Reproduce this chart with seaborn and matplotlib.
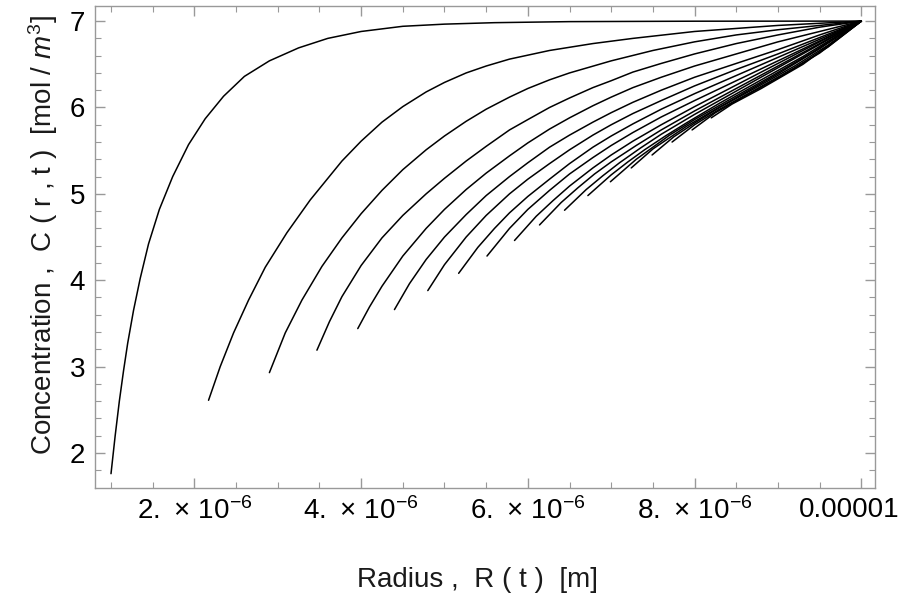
import numpy as np
import pandas as pd
import seaborn as sns
import matplotlib
matplotlib.use("Agg")
import matplotlib.pyplot as plt
from matplotlib.transforms import ScaledTranslation

# Concentration profiles C(r, t) around the shrinking radius R(t).
# Each profile: (radius in micrometres, concentration in mol/m^3)
profile_01 = [(1.00, 1.76), (1.05, 2.20), (1.10, 2.60), (1.15, 2.95), (1.20, 3.27),
              (1.27, 3.65), (1.35, 4.02), (1.45, 4.42), (1.58, 4.82), (1.74, 5.20),
              (1.93, 5.57), (2.13, 5.87), (2.35, 6.13), (2.60, 6.36), (2.90, 6.54),
              (3.25, 6.69), (3.60, 6.80), (4.00, 6.88), (4.50, 6.94), (5.00, 6.965),
              (5.60, 6.982), (6.50, 6.994), (8.00, 6.999), (10.00, 7.00)]
profile_02 = [(2.17, 2.61), (2.31, 3.00), (2.47, 3.39), (2.65, 3.77), (2.85, 4.15),
              (3.11, 4.55), (3.39, 4.93), (3.77, 5.38), (4.00, 5.61), (4.25, 5.83),
              (4.50, 6.01), (4.78, 6.18), (5.00, 6.29), (5.26, 6.40), (5.50, 6.48),
              (5.78, 6.56), (6.26, 6.66), (6.78, 6.74), (7.26, 6.80), (8.00, 6.88),
              (9.00, 6.95), (10.00, 7.00)]
profile_03 = [(2.90, 2.93), (3.09, 3.39), (3.29, 3.77), (3.53, 4.16), (3.77, 4.49),
              (4.00, 4.77), (4.25, 5.04), (4.50, 5.28), (4.78, 5.51), (5.00, 5.67),
              (5.26, 5.84), (5.50, 5.98), (5.78, 6.12), (6.00, 6.22), (6.26, 6.32),
              (6.50, 6.40), (7.00, 6.54), (7.50, 6.66), (8.00, 6.76), (8.50, 6.84),
              (9.00, 6.90), (9.50, 6.95), (10.00, 7.00)]
profile_04 = [(3.47, 3.19), (3.62, 3.52), (3.77, 3.81), (4.00, 4.17), (4.25, 4.49),
              (4.50, 4.75), (4.78, 5.00), (5.00, 5.18), (5.26, 5.38), (5.50, 5.55),
              (5.78, 5.74), (6.00, 5.86), (6.26, 6.00), (6.50, 6.11), (6.78, 6.23),
              (7.00, 6.31), (7.26, 6.41), (7.60, 6.51), (8.00, 6.62), (8.50, 6.74),
              (9.00, 6.84), (9.50, 6.93), (10.00, 7.00)]
profile_05 = [(3.96, 3.44), (4.10, 3.69), (4.25, 3.93), (4.50, 4.28), (4.78, 4.60),
              (5.00, 4.82), (5.26, 5.05), (5.50, 5.24), (5.78, 5.44), (6.00, 5.59),
              (6.26, 5.75), (6.50, 5.88), (6.78, 6.02), (7.00, 6.12), (7.26, 6.23),
              (7.60, 6.35), (8.00, 6.48), (8.50, 6.62), (9.00, 6.76), (9.50, 6.88),
              (10.00, 7.00)]
profile_06 = [(4.40, 3.66), (4.58, 3.96), (4.78, 4.24), (5.00, 4.50), (5.26, 4.76),
              (5.50, 4.98), (5.78, 5.20), (6.00, 5.36), (6.26, 5.54), (6.50, 5.68),
              (6.78, 5.83), (7.00, 5.94), (7.26, 6.06), (7.60, 6.20), (8.00, 6.35),
              (8.50, 6.51), (9.00, 6.67), (9.50, 6.84), (10.00, 7.00)]
profile_07 = [(4.80, 3.88), (5.00, 4.18), (5.26, 4.50), (5.50, 4.75), (5.78, 5.00),
              (6.00, 5.17), (6.26, 5.35), (6.50, 5.51), (6.78, 5.68), (7.00, 5.80),
              (7.26, 5.93), (7.60, 6.08), (8.00, 6.25), (8.50, 6.44), (9.00, 6.62),
              (9.50, 6.81), (10.00, 7.00)]
profile_08 = [(5.17, 4.08), (5.40, 4.38), (5.60, 4.60), (5.78, 4.78), (6.00, 4.97),
              (6.26, 5.17), (6.50, 5.35), (6.78, 5.54), (7.00, 5.67), (7.26, 5.81),
              (7.60, 5.98), (8.00, 6.16), (8.50, 6.37), (9.00, 6.58), (9.50, 6.79),
              (10.00, 7.00)]
profile_09 = [(5.51, 4.28), (5.78, 4.60), (6.00, 4.82), (6.26, 5.04), (6.50, 5.23),
              (6.78, 5.42), (7.00, 5.56), (7.26, 5.71), (7.60, 5.89), (8.00, 6.08),
              (8.50, 6.31), (9.00, 6.54), (9.50, 6.77), (10.00, 7.00)]
profile_10 = [(5.84, 4.46), (6.10, 4.74), (6.30, 4.92), (6.50, 5.09), (6.78, 5.30),
              (7.00, 5.45), (7.26, 5.61), (7.60, 5.80), (8.00, 6.01), (8.50, 6.26),
              (9.00, 6.51), (9.50, 6.76), (10.00, 7.00)]
profile_11 = [(6.14, 4.64), (6.40, 4.90), (6.60, 5.07), (6.80, 5.23), (7.00, 5.37),
              (7.30, 5.56), (7.60, 5.74), (8.00, 5.96), (8.50, 6.22), (9.00, 6.48),
              (9.50, 6.74), (10.00, 7.00)]
profile_12 = [(6.44, 4.81), (6.70, 5.05), (6.90, 5.21), (7.10, 5.36), (7.35, 5.53),
              (7.60, 5.69), (8.00, 5.92), (8.50, 6.19), (9.00, 6.46), (9.50, 6.73),
              (10.00, 7.00)]
profile_13 = [(6.72, 4.98), (7.00, 5.22), (7.20, 5.37), (7.40, 5.51), (7.65, 5.67),
              (7.90, 5.82), (8.30, 6.05), (8.80, 6.32), (9.30, 6.59), (10.00, 7.00)]
profile_14 = [(6.99, 5.14), (7.30, 5.40), (7.50, 5.54), (7.70, 5.68), (8.00, 5.86),
              (8.40, 6.08), (8.90, 6.35), (9.40, 6.63), (10.00, 7.00)]
profile_15 = [(7.24, 5.30), (7.50, 5.52), (7.70, 5.65), (7.90, 5.78), (8.20, 5.95),
              (8.60, 6.17), (9.00, 6.39), (9.50, 6.68), (10.00, 7.00)]
profile_16 = [(7.49, 5.45), (7.75, 5.66), (8.00, 5.82), (8.30, 6.00), (8.70, 6.21),
              (9.20, 6.48), (9.60, 6.72), (10.00, 7.00)]
profile_17 = [(7.73, 5.60), (8.00, 5.80), (8.30, 5.98), (8.70, 6.19), (9.20, 6.46),
              (9.60, 6.70), (10.00, 7.00)]
profile_18 = [(7.97, 5.74), (8.25, 5.94), (8.60, 6.13), (9.00, 6.34), (9.50, 6.63),
              (10.00, 7.00)]
profile_19 = [(8.20, 5.88), (8.45, 6.04), (8.80, 6.22), (9.30, 6.50), (10.00, 7.00)]

profiles = [profile_01, profile_02, profile_03, profile_04, profile_05, profile_06,
            profile_07, profile_08, profile_09, profile_10, profile_11, profile_12,
            profile_13, profile_14, profile_15, profile_16, profile_17, profile_18,
            profile_19]

x_tick_values = [2e-6, 4e-6, 6e-6, 8e-6, 1e-5]
x_tick_labels = [r"$\mathregular{2.\,\times\,10^{-6}}$", r"$\mathregular{4.\,\times\,10^{-6}}$",
                 r"$\mathregular{6.\,\times\,10^{-6}}$", r"$\mathregular{8.\,\times\,10^{-6}}$",
                 "0.00001"]
y_tick_values = [2, 3, 4, 5, 6, 7]

rows = []
for step, prof in enumerate(profiles):
    for r_um, conc in prof:
        rows.append({"step": step, "radius": r_um * 1e-6, "conc": conc})
df = pd.DataFrame(rows)

sns.set_theme(style="white")
plt.rcParams["font.family"] = ["Liberation Sans", "DejaVu Sans"]
plt.rcParams["mathtext.fontset"] = "custom"
plt.rcParams["mathtext.rm"] = "Liberation Sans"
plt.rcParams["mathtext.it"] = "Liberation Sans:italic"

fig = plt.figure(figsize=(9.03, 5.93), dpi=100)
ax = fig.add_axes([95 / 903, 1 - 487.5 / 593, 780.5 / 903, 481.5 / 593])

sns.lineplot(data=df, x="radius", y="conc", units="step", estimator=None,
             sort=False, color="black", lw=1.1, ax=ax, legend=False)

ax.set_xlim(0.808e-6, 10.17e-6)
ax.set_ylim(1.60, 7.175)

frame_color = "#999999"
for side in ax.spines.values():
    side.set_color(frame_color)
    side.set_linewidth(1.0)

ax.set_xticks(x_tick_values)
ax.set_xticklabels(x_tick_labels)
ax.set_xticks([v * 1e-6 for v in (1.0, 1.5, 2.5, 3.0, 3.5, 4.5, 5.0, 5.5, 6.5, 7.0,
                                  7.5, 8.5, 9.0, 9.5)], minor=True)
ax.set_yticks(y_tick_values)
ax.set_yticks([v for v in np.round(np.arange(1.8, 7.1, 0.2), 1) if v not in y_tick_values],
              minor=True)

ax.tick_params(which="both", direction="in", top=True, right=True, bottom=True, left=True,
               color=frame_color, labelsize=20, labelcolor="black")
ax.tick_params(which="major", length=7, width=1.0, pad=7)
ax.tick_params(which="minor", length=4, width=0.8)

# keep the last x label inside the figure
last = ax.get_xticklabels()[-1]
last.set_transform(last.get_transform() + ScaledTranslation(-0.12, 0, fig.dpi_scale_trans))

ax.set_xlabel("Radius ,  R ( t )  [m]", fontsize=20, color="#1a1a1a")
ax.xaxis.set_label_coords(0.49, -0.165)
ax.set_ylabel(r"Concentration ,  C ( r , t )  [mol / $\mathit{m}^{3}$]", fontsize=20,
              color="#1a1a1a")
ax.yaxis.set_label_coords(-0.045, 0.525)

fig.savefig("out.png", dpi=100)
